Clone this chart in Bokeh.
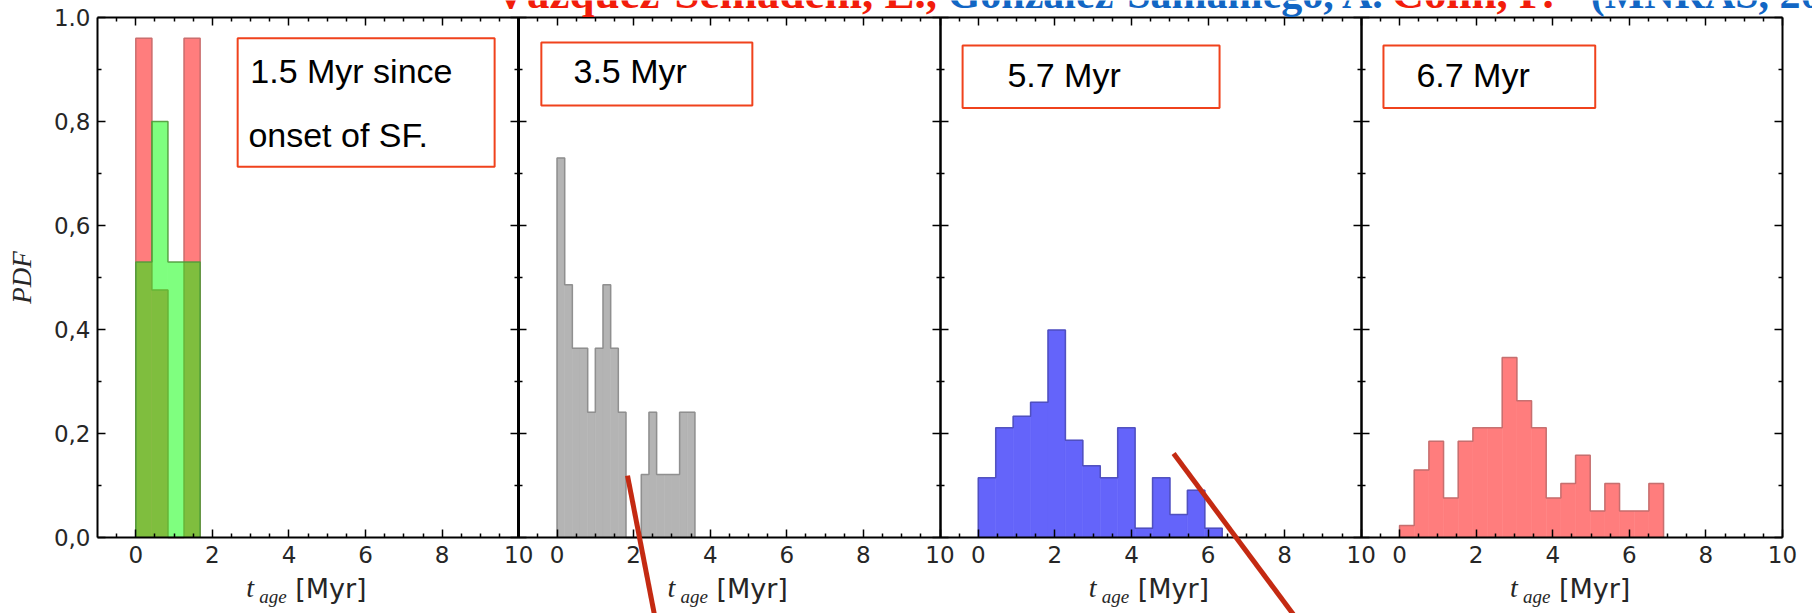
from bokeh.plotting import figure
from bokeh.models import (ColumnDataSource, FixedTicker, LinearAxis, Range1d,
                          BoxAnnotation, Label, Arrow)
from bokeh.embed import file_html
from bokeh.resources import INLINE

# ---------------- values ----------------
x_tick_values = [0, 2, 4, 6, 8, 10]
x_minor_values = [-0.5, 0.5, 1, 1.5, 2.5, 3, 3.5, 4.5, 5, 5.5, 6.5, 7, 7.5, 8.5, 9, 9.5]
y_tick_values = [0.0, 0.2, 0.4, 0.6, 0.8, 1.0]
y_tick_labels = ["0,0", "0,2", "0,4", "0,6", "0,8", "1.0"]
y_minor_values = [0.1, 0.3, 0.5, 0.7, 0.9]

y_label = "PDF"
x_label_main = "t"
x_label_sub = "age"
x_label_unit = "[Myr]"

panel_notes = [["1.5 Myr since", "onset of SF."], ["3.5 Myr"], ["5.7 Myr"], ["6.7 Myr"]]
title_parts = ["Vázquez-Semadeni, E.,", "González-Samaniego, A.", "Colín, P.", "(MNRAS, 2017)"]

# panel 1 (1.5 Myr): two overlaid histograms
p1_edges = [0.0, 0.42, 0.84, 1.26, 1.68]
p1_red = [0.96, 0.476, 0.0, 0.96]
p1_green = [0.53, 0.80, 0.53, 0.53]

# panel 2 (3.5 Myr)
p2_edges = [0.0, 0.2, 0.4, 0.6, 0.8, 1.0, 1.2, 1.4, 1.6, 1.8, 2.0, 2.2, 2.4, 2.6,
            2.8, 3.0, 3.2, 3.4, 3.6]
p2_gray = [0.73, 0.486, 0.364, 0.364, 0.241, 0.364, 0.486, 0.364, 0.241, 0.0, 0.0,
           0.121, 0.241, 0.121, 0.121, 0.121, 0.241, 0.241]

# panel 3 (5.7 Myr)
p3_edges = [0.0, 0.455, 0.91, 1.365, 1.82, 2.275, 2.73, 3.185, 3.64, 4.095, 4.55,
            5.005, 5.46, 5.915, 6.37]
p3_blue = [0.115, 0.211, 0.233, 0.26, 0.399, 0.187, 0.138, 0.115, 0.211, 0.018,
           0.115, 0.044, 0.091, 0.018]

# panel 4 (6.7 Myr)
p4_edges = [0.0, 0.383, 0.766, 1.149, 1.532, 1.915, 2.298, 2.681, 3.064, 3.447, 3.83,
            4.213, 4.596, 4.979, 5.362, 5.745, 6.128, 6.511, 6.894]
p4_red = [0.023, 0.130, 0.185, 0.076, 0.185, 0.211, 0.211, 0.346, 0.263, 0.211, 0.076,
          0.104, 0.158, 0.051, 0.104, 0.051, 0.051, 0.104]

# ---------------- layout ----------------
W, H = 1812, 613
SPAN = 11                         # each panel covers local x from -1 to 10
X_LO, X_HI = -1, 4 * SPAN - 1     # panels' outer x limits
LEFT_PX, RIGHT_PX = 97, 1782      # pixel position of X_LO / X_HI
TOP_PX, BOT_PX = 17, 537          # pixel position of y = 1 / y = 0
PX = (RIGHT_PX - LEFT_PX) / (X_HI - X_LO)
PY = BOT_PX - TOP_PX
TICK_FONT = "DejaVu Sans"
TXT = "#262626"
BASE_SHIFT = 0.41                 # label baseline correction (fraction of font size)

x_start = X_LO - LEFT_PX / PX
y_start = -(H - BOT_PX) / PY
p = figure(width=W, height=H,
           x_range=Range1d(x_start, x_start + W / PX),
           y_range=Range1d(y_start, y_start + H / PY),
           x_axis_type=None, y_axis_type=None,
           output_backend="svg", toolbar_location=None,
           min_border=0, min_border_left=0, min_border_right=0,
           min_border_top=0, min_border_bottom=0,
           background_fill_color="white", border_fill_color="white")
p.outline_line_color = None


def y_for(baseline_px, size_px):
    """data y that puts a label's baseline at the given pixel row"""
    return (BOT_PX - (baseline_px - BASE_SHIFT * size_px)) / PY


def make_axis(ticks, minors, overrides, loc, fixed, bounds, width=2, show=False):
    ax = LinearAxis(ticker=FixedTicker(ticks=ticks, minor_ticks=minors),
                    fixed_location=fixed, bounds=bounds)
    ax.axis_line_width = width
    ax.axis_line_color = "black"
    ax.major_tick_in = 8
    ax.major_tick_out = 0
    ax.minor_tick_in = 4
    ax.minor_tick_out = 0
    ax.major_tick_line_width = 1.5
    ax.minor_tick_line_width = 1.5
    if show:
        ax.major_label_overrides = overrides
        ax.major_label_text_font = TICK_FONT
        ax.major_label_text_font_size = "23px"
        ax.major_label_text_color = TXT
    else:
        ax.major_label_text_alpha = 0
        ax.major_label_text_font_size = "1px"
        ax.major_label_standoff = 0
    p.add_layout(ax, loc)
    return ax


xt_major = [SPAN * k + t for k in range(4) for t in x_tick_values]
xt_minor = [SPAN * k + t for k in range(4) for t in x_minor_values]
x_over = {float(SPAN * k + t): str(t) for k in range(4) for t in x_tick_values}
y_over = {float(v): s for v, s in zip(y_tick_values, y_tick_labels)}

xb = make_axis(xt_major, xt_minor, x_over, "below", 0, (X_LO, X_HI), show=True)
xb.major_label_standoff = 8
make_axis(xt_major, xt_minor, {}, "above", 1, (X_LO, X_HI))

yl = make_axis(y_tick_values, y_minor_values, y_over, "left", X_LO, (0, 1), show=True)
yl.major_label_standoff = 7
yl.axis_label = y_label
yl.axis_label_text_font = "Liberation Serif"
yl.axis_label_text_font_style = "italic"
yl.axis_label_text_font_size = "27px"
yl.axis_label_text_color = TXT
yl.axis_label_standoff = 14
make_axis(y_tick_values, y_minor_values, {}, "right", X_HI, (0, 1))

# panel separators: inward ticks on both sides of each shared edge
for k in range(3):
    bx = SPAN * k + 10
    lw = 3 if k == 0 else 2
    make_axis(y_tick_values, y_minor_values, {}, "left", bx, (0, 1), width=lw)
    make_axis(y_tick_values, y_minor_values, {}, "right", bx, (0, 1), width=lw)


def draw_hist(k, edges, heights, fill, line, fill_alpha=1.0):
    off = SPAN * k
    src = ColumnDataSource(dict(left=[e + off for e in edges[:-1]],
                                right=[e + off for e in edges[1:]],
                                top=heights, bottom=[0.0] * len(heights)))
    p.quad(left="left", right="right", top="top", bottom="bottom", source=src,
           fill_color=fill, fill_alpha=fill_alpha,
           line_color=fill if fill_alpha >= 1 else None, line_width=0.6)
    xs, ys = [edges[0] + off], [0.0]
    for i, h in enumerate(heights):
        xs += [edges[i] + off, edges[i + 1] + off]
        ys += [h, h]
    xs.append(edges[-1] + off)
    ys.append(0.0)
    p.line(xs, ys, line_color=line, line_width=1.5, line_alpha=0.9)


draw_hist(0, p1_edges, p1_red, "#ff7d7d", "#c46a6a")
draw_hist(0, p1_edges, p1_green, "#00ff00", "#4f9a3a", fill_alpha=0.5)
draw_hist(1, p2_edges, p2_gray, "#b4b4b4", "#8a8a8a")
draw_hist(2, p3_edges, p3_blue, "#6464fa", "#4a4ab8")
draw_hist(3, p4_edges, p4_red, "#ff7d7d", "#c06a6a")

# note boxes (local x, data y) and their text baselines (pixel rows)
box_specs = [(2.66, 9.37, 0.713, 0.960), (-0.41, 5.10, 0.831, 0.952),
             (-0.41, 6.30, 0.826, 0.946), (-0.42, 5.11, 0.826, 0.946)]
note_pos = [[(2.99, 84), (2.94, 148)], [(0.43, 84)], [(0.76, 88)], [(0.44, 88)]]
for k in range(4):
    off = SPAN * k
    l, r, b, t = box_specs[k]
    p.add_layout(BoxAnnotation(left=off + l, right=off + r, bottom=b, top=t,
                               fill_color=None, line_color="#f0421c", line_width=2,
                               line_alpha=1.0))
    for txt, (nx, base) in zip(panel_notes[k], note_pos[k]):
        p.add_layout(Label(x=off + nx, y=y_for(base, 34), text=txt,
                           text_font="Liberation Sans", text_font_size="34px",
                           text_color="black", text_baseline="alphabetic"))

# x-axis labels of every panel
for k in range(4):
    cx = SPAN * k + 4.5
    p.add_layout(Label(x=cx - 62 / PX, y=y_for(598, 28), text=x_label_main,
                       text_font="Liberation Serif", text_font_style="italic",
                       text_font_size="28px", text_color=TXT, text_baseline="alphabetic"))
    p.add_layout(Label(x=cx - 49 / PX, y=y_for(604, 19), text=x_label_sub,
                       text_font="Liberation Serif", text_font_style="italic",
                       text_font_size="19px", text_color=TXT, text_baseline="alphabetic"))
    p.add_layout(Label(x=cx - 13 / PX, y=y_for(599, 27), text=x_label_unit,
                       text_font=TICK_FONT, text_font_size="27px", text_color=TXT,
                       text_baseline="alphabetic"))

# red pointer lines drawn over the figure
pointer_lines = [((12.84, 0.119), (13.60, -0.17)), ((27.10, 0.1615), (30.45, -0.17))]
for (x0, y0), (x1, y1) in pointer_lines:
    p.add_layout(Arrow(end=None, x_start=x0, y_start=y0, x_end=x1, y_end=y1,
                       line_color="#c42a12", line_width=5))

# cut-off citation at the top
title_x = [9.37, 21.20, 32.79, 37.99]
title_colors = ["#f21d0b", "#1266c4", "#f21d0b", "#1266c4"]
title_sizes = [45, 42, 45, 42]
for txt, tx, col, sz in zip(title_parts, title_x, title_colors, title_sizes):
    p.add_layout(Label(x=tx, y=y_for(11, sz), text=txt, text_font="Liberation Serif",
                       text_font_style="bold", text_font_size=f"{sz}px", text_color=col,
                       text_baseline="alphabetic"))

open("out.html", "w").write(file_html(p, INLINE))
